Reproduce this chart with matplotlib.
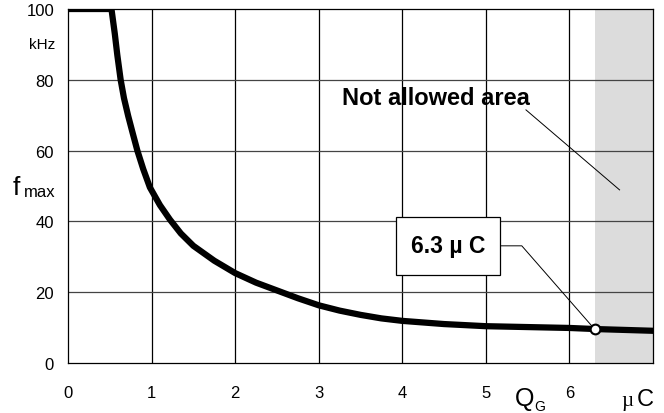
import matplotlib
matplotlib.use("Agg")
import matplotlib.pyplot as plt
from matplotlib.patches import Rectangle

plt.rcParams['font.family'] = ['Liberation Sans', 'DejaVu Sans']

# Data
qg = [0.0, 0.52, 0.56, 0.59, 0.63, 0.67, 0.72, 0.77, 0.83, 0.90, 0.98, 1.10, 1.22, 1.35, 1.50, 1.75,
      2.0, 2.25, 2.5, 2.75, 3.0, 3.25, 3.5, 3.75, 4.0, 4.5, 5.0, 6.0, 6.3, 7.0]
fmax = [100, 100, 93, 87, 80, 74.8, 69.8, 65.3, 60, 54.8, 49.6, 44.6, 40.5, 36.6, 33.1, 28.9,
        25.4, 22.7, 20.5, 18.3, 16.3, 14.8, 13.6, 12.6, 11.9, 11.0, 10.4, 9.9, 9.6, 9.1]
xticks = [0, 1, 2, 3, 4, 5, 6]
yticks = [0, 20, 40, 60, 80, 100]
limit_q = 6.3
limit_f = 9.6

W, H = 664, 414
fig = plt.figure(figsize=(W / 100, H / 100), dpi=100)
ax = fig.add_axes([68 / W, 1 - 364 / H, (653 - 68) / W, (364 - 10) / H])
ax.set_xlim(0, 7)
ax.set_ylim(0, 100)

# Not-allowed shaded region
ax.axvspan(limit_q, 7, color='#dcdcdc', zorder=0, lw=0)

# Grid
for x in range(1, 7):
    ax.axvline(x, color='black', lw=0.9, zorder=1)
for y in [20, 40, 60, 80]:
    ax.axhline(y, color='#444444', lw=0.9, zorder=1)
for s in ax.spines.values():
    s.set_linewidth(0.9)
    s.set_zorder(1)

# Curve
ax.plot(qg, fmax, color='black', lw=4.5, solid_capstyle='round', solid_joinstyle='round', zorder=3)
ax.plot([limit_q], [limit_f], 'o', ms=7, mfc='white', mec='black', mew=1.5, zorder=5)

# Ticks
ax.set_xticks(xticks)
ax.set_xticklabels([str(v) for v in xticks], fontsize=12)
ax.set_yticks(yticks)
ax.set_yticklabels([str(v) for v in yticks], fontsize=12)
ax.tick_params(axis='x', length=0, pad=16)
ax.tick_params(axis='y', length=0, pad=10)

# kHz unit label
ax.text(-0.31, 90, 'kHz', fontsize=11, ha='center', va='center', clip_on=False)

# Annotation: Not allowed area
ax.text(3.275, 73.2, 'Not allowed area', fontsize=17, fontweight='bold', ha='left', va='baseline', zorder=6)
ax.plot([5.48, 6.60], [71.5, 48.9], color='black', lw=0.7, zorder=6)

# Annotation: 6.3 uC box
ax.add_patch(Rectangle((3.92, 24.9), 5.17 - 3.92, 41.2 - 24.9, facecolor='white', edgecolor='black', lw=0.9, zorder=6))
ax.text((3.92 + 5.17) / 2, 33.2, '6.3 \u00b5 C', fontsize=16.5, fontweight='bold', ha='center', va='center', zorder=7)
ax.plot([5.17, 5.43, limit_q], [33.1, 33.1, limit_f], color='black', lw=0.7, zorder=4)

# Axis labels
fig.text(13 / W, 1 - 195 / H, 'f', fontsize=19, ha='left', va='baseline')
fig.text(24 / W, 1 - 197 / H, 'max', fontsize=12, ha='left', va='baseline')
fig.text(515 / W, 1 - 406 / H, 'Q', fontsize=18, ha='left', va='baseline')
fig.text(534 / W, 1 - 411 / H, 'G', fontsize=10, ha='left', va='baseline')
fig.text(621 / W, 1 - 406 / H, '\u00b5', fontsize=15, ha='left', va='baseline', family='Liberation Serif')
fig.text(637 / W, 1 - 406 / H, 'C', fontsize=17, ha='left', va='baseline')

fig.savefig('out.png', dpi=100)
